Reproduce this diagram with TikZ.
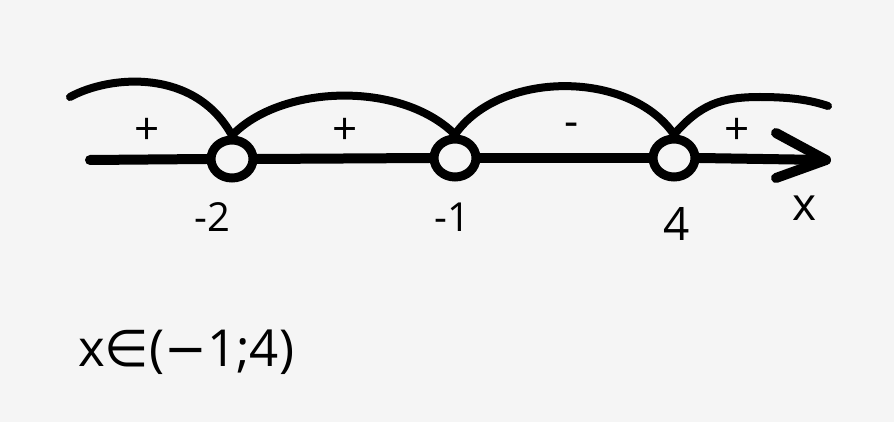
\documentclass[tikz,border=0pt]{standalone}
\usepackage{fontspec}
\setmainfont{Open Sans}
\newfontfamily\symfont{DejaVu Sans}
\usetikzlibrary{shapes.geometric}
\definecolor{bg}{HTML}{F5F5F5}
\tikzset{
  axisline/.style={line width=10pt, line cap=round},
  arcline/.style={line width=8pt, line cap=round},
  hole/.style={draw, ellipse, line width=9pt, minimum width=42pt, minimum height=38pt, inner sep=0pt},
  sign/.style={font=\fontsize{44}{50}\selectfont, inner sep=0pt},
  tick/.style={font=\fontsize{40}{48}\selectfont, inner sep=0pt},
}
\begin{document}
\begin{tikzpicture}[x=1pt,y=-1pt]
\fill[bg] (0,0) rectangle (894,422);
\useasboundingbox (0,0) rectangle (894,422);
% holes
\node[hole] (p1) at (232,159) {};
\node[hole] (p2) at (455,158) {};
\node[hole] (p3) at (674,158) {};
\coordinate (start) at (90,160);
\coordinate (tip) at (826,160);
\coordinate (hu) at (776,133);
\coordinate (hd) at (776,178);
% axis
\draw[axisline] (start) -- (p1.west);
\draw[axisline] (p1.east) -- (p2.west);
\draw[axisline] (p2.east) -- (p3.west);
\draw[axisline] (p3.east) -- (tip);
\draw[axisline, line join=round] (hu) -- (tip) -- (hd);
% arcs
\coordinate (a0) at (70,97);
\coordinate (a4) at (828,106);
\draw[arcline] (a0) .. controls (110,75) and (195,68) .. (p1.north);
\draw[arcline] (p1.north) .. controls (280,85) and (400,80) .. (p2.north);
\draw[arcline] (p2.north) .. controls (500,70) and (630,70) .. (p3.north);
\draw[arcline] (p3.north) .. controls (700,105) and (720,97) .. (760,97) .. controls (790,97) and (810,100) .. (a4);
% signs
\node[sign] (s1) at (147,131) {+};
\node[sign] (s2) at (345,131) {+};
\node[sign] (s3) at (572,130) {-};
\node[sign] (s4) at (737,131) {+};
% labels
\node[tick] (l1) at (212,217) {-2};
\node[tick] (l2) at (452,217) {-1};
\node[tick, font=\fontsize{46}{52}\selectfont] (l3) at (677,224) {4};
\node[tick, font=\fontsize{46}{52}\selectfont] (lx) at (805,208) {x};
\node[inner sep=0pt, anchor=west, font=\fontsize{51}{58}\selectfont] (ans) at (78,352) {x{\symfont ∈}({\symfont −}1;4)};
\end{tikzpicture}
\end{document}
